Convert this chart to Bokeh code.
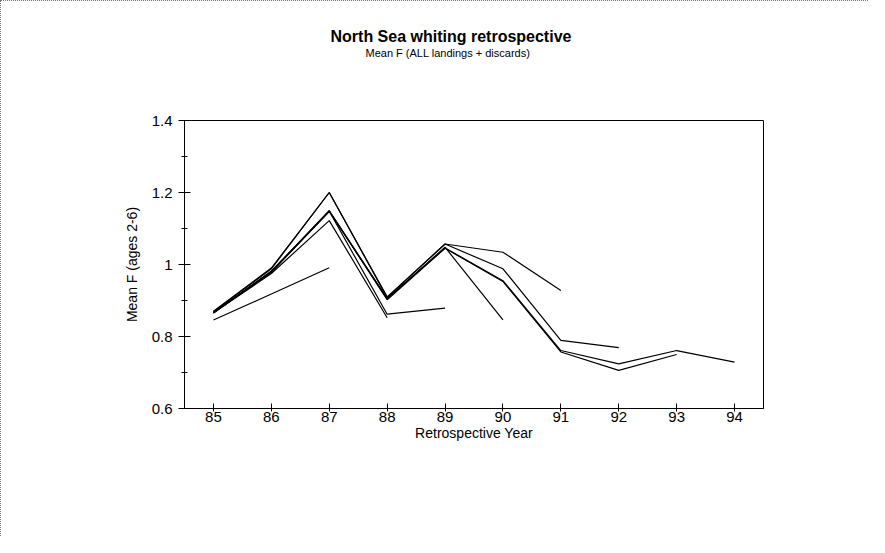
from bokeh.plotting import figure
from bokeh.models import Range1d, FixedTicker, Title
from bokeh.embed import file_html
from bokeh.resources import INLINE

title_text = "North Sea whiting retrospective"
subtitle_text = "Mean F (ALL landings + discards)"
x_label = "Retrospective Year"
y_label = "Mean F (ages 2-6)"

years = [85, 86, 87, 88, 89, 90, 91, 92, 93, 94]
y_ticks = [0.6, 0.8, 1.0, 1.2, 1.4]
y_minor = [0.7, 0.9, 1.1, 1.3]

# retrospective runs (values from 85 up to terminal year)
run_87 = [0.846, 0.918, 0.991]
run_88 = [0.866, 0.975, 1.122, 0.852]
run_89 = [0.867, 0.978, 1.148, 0.862, 0.879]
run_90 = [0.866, 0.982, 1.148, 0.905, 1.048, 0.846]
run_91 = [0.870, 0.990, 1.200, 0.910, 1.057, 1.034, 0.928]
run_92 = [0.869, 0.988, 1.200, 0.908, 1.057, 0.988, 0.789, 0.769]
run_93 = [0.865, 0.980, 1.148, 0.902, 1.045, 0.953, 0.757, 0.706, 0.750]
run_94 = [0.865, 0.980, 1.150, 0.905, 1.046, 0.955, 0.761, 0.724, 0.761, 0.729]
runs = [run_87, run_88, run_89, run_90, run_91, run_92, run_93, run_94]

FONT = "Liberation Sans"

p = figure(width=868, height=536, output_backend="svg", toolbar_location=None,
           x_range=Range1d(84.5, 94.5), y_range=Range1d(0.6, 1.4),
           min_border_left=183, min_border_right=106,
           min_border_top=119, min_border_bottom=129)

p.title.text = title_text
p.title.text_font = FONT
p.title.text_font_size = "16px"
p.title.text_font_style = "bold"
p.title.text_color = "black"
p.title.align = "left"
p.title.offset = 146
p.title.standoff = 0

# first added sits closest to the frame: spacer, then subtitle above it
spacer = Title(text=" ", text_font=FONT, text_font_size="1px", standoff=59)
p.add_layout(spacer, "above")
sub = Title(text=subtitle_text, text_font=FONT, text_font_size="11px",
            text_font_style="normal", text_color="black", align="left",
            offset=181, standoff=0)
p.add_layout(sub, "above")

for r in runs:
    p.line(years[:len(r)], r, line_color="black", line_width=1.2)

p.xgrid.visible = False
p.ygrid.visible = False
p.outline_line_color = "black"
p.outline_line_width = 1
p.background_fill_color = "white"
p.border_fill_color = "white"

xa = p.xaxis[0]
xa.ticker = FixedTicker(ticks=years)
xa.major_tick_in = 5
xa.major_tick_out = 3
xa.minor_tick_line_color = None
xa.major_label_standoff = 0
xa.major_label_text_font = FONT
xa.major_label_text_font_size = "15px"
xa.major_label_text_color = "black"
xa.axis_label = x_label
xa.axis_label_text_font = FONT
xa.axis_label_text_font_size = "14px"
xa.axis_label_text_font_style = "normal"
xa.axis_label_text_color = "black"
xa.axis_label_standoff = 0
xa.axis_line_color = "black"

ya = p.yaxis[0]
ya.ticker = FixedTicker(ticks=y_ticks, minor_ticks=y_minor)
ya.major_label_overrides = {1.0: "1"}
ya.major_tick_in = 6
ya.major_tick_out = 6
ya.minor_tick_in = 3
ya.minor_tick_out = 3
ya.major_label_standoff = 6
ya.major_label_text_font = FONT
ya.major_label_text_font_size = "15px"
ya.major_label_text_color = "black"
ya.axis_label = y_label
ya.axis_label_text_font = FONT
ya.axis_label_text_font_size = "14px"
ya.axis_label_text_font_style = "normal"
ya.axis_label_text_color = "black"
ya.axis_label_standoff = 9
ya.axis_line_color = "black"

p.styles = {"border-top": "1px dotted #777", "border-left": "1px dotted #777"}

open("out.html", "w").write(file_html(p, INLINE))
